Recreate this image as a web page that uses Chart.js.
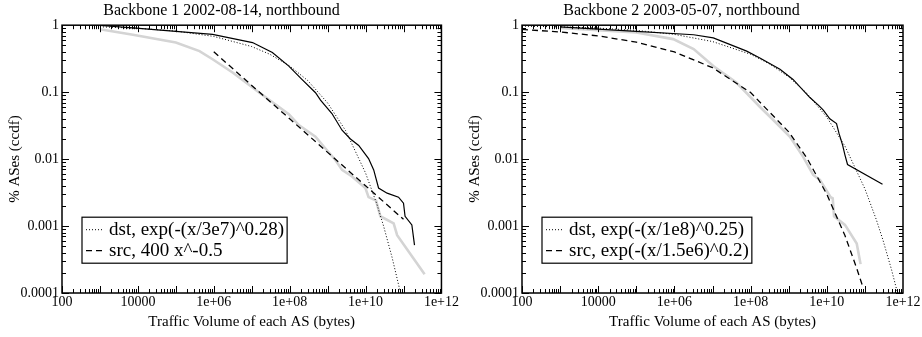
<!DOCTYPE html>
<html>
<head>
<meta charset="utf-8">
<script src="https://cdn.jsdelivr.net/npm/chart.js@4.4.1/dist/chart.umd.min.js"></script>
<style>
  html, body { margin: 0; padding: 0; background: #fff; }
  #wrap { display: flex; width: 922px; height: 337px; }
  canvas { display: block; }
</style>
</head>
<body>
<div id="wrap">
  <canvas id="c1" width="460" height="337"></canvas>
  <canvas id="c2" width="462" height="337"></canvas>
</div>
<script>
// tick labels
const xTickValues = [1e2, 1e4, 1e6, 1e8, 1e10, 1e12];
const xTickLabels = ['100', '10000', '1e+06', '1e+08', '1e+10', '1e+12'];
const yTickValues = [1e-4, 1e-3, 1e-2, 1e-1, 1];
const yTickLabels = ['0.0001', '0.001', '0.01', '0.1', '1'];

// Backbone 1 2002-08-14 : measured dst / src volumes (ccdf)
const b1DstX = [1e3, 7.4e3, 1e5, 9.3e5, 1.05e7, 3.5e7, 9.5e7, 2.1e8, 4.8e8, 6.5e8, 1.3e9, 2.4e9, 4e9, 6.6e9, 1.2e10, 1.64e10, 2.2e10, 3.7e10, 7.4e10, 1.0e11, 1.1e11, 1.66e11, 1.95e11];
const b1DstY = [0.99, 0.91, 0.81, 0.73, 0.55, 0.39, 0.245, 0.155, 0.098, 0.076, 0.048, 0.027, 0.020, 0.016, 0.0102, 0.0069, 0.0037, 0.0031, 0.0027, 0.0022, 0.0014, 0.00104, 0.00052];
const b1SrcX = [1e3, 7.4e3, 1e5, 4.2e5, 9.3e5, 3.2e6, 1.6e7, 9.5e7, 1.77e8, 4.8e8, 8e8, 1.6e9, 2.4e9, 4.4e9, 9.9e9, 1.2e10, 1.9e10, 2.45e10, 5.5e10, 6.8e10, 3.6e11];
const b1SrcY = [0.87, 0.72, 0.55, 0.41, 0.31, 0.195, 0.098, 0.047, 0.032, 0.0216, 0.0153, 0.0097, 0.0069, 0.0055, 0.0037, 0.0027, 0.0024, 0.0014, 0.0011, 0.00073, 0.00019];
// fits
const b1DstFitX = [1e3, 1e4, 1e5, 1e6, 1e7, 3e7, 1e8, 3e8, 1e9, 3e9, 1e10, 2e10, 3e10, 5e10, 8e10];
const b1DstFitY = [0.946, 0.90, 0.817, 0.68, 0.48, 0.368, 0.246, 0.149, 0.069, 0.0265, 0.0062, 0.0021, 0.00099, 0.00034, 0.000111];
const b1SrcFitX = [1e6, 1e7, 1e8, 1e9, 1e10, 1e11];
const b1SrcFitY = [0.4, 0.126, 0.04, 0.0126, 0.004, 0.00126];

// Backbone 2 2003-05-07
const b2DstX = [1e3, 1e5, 3.2e6, 1.05e7, 7.9e7, 1.8e8, 5.9e8, 1.3e9, 3.6e9, 6e9, 8.1e9, 1.2e10, 1.8e10, 2.1e10, 2.6e10, 3e10, 3.5e10, 2.9e11];
const b2DstY = [0.945, 0.81, 0.72, 0.645, 0.41, 0.32, 0.22, 0.155, 0.083, 0.064, 0.054, 0.040, 0.034, 0.024, 0.0162, 0.0115, 0.0083, 0.0042];
const b2SrcX = [1e3, 1e5, 9.3e5, 3.2e6, 1.05e7, 4.3e7, 1.77e8, 4e8, 1.08e9, 2.4e9, 4.4e9, 6.6e9, 1.26e10, 1.43e10, 1.55e10, 3e10, 6.1e10, 7.7e10];
const b2SrcY = [0.91, 0.78, 0.62, 0.44, 0.245, 0.138, 0.060, 0.038, 0.0216, 0.0108, 0.0058, 0.0049, 0.0027, 0.0026, 0.0014, 0.00104, 0.00055, 0.00027];
const b2DstFitX = [1e2, 1e3, 1e4, 1e5, 1e6, 1e7, 1e8, 3e8, 1e9, 3e9, 1e10, 3e10, 1e11, 2e11, 3e11, 5e11, 7e11];
const b2DstFitY = [0.969, 0.945, 0.905, 0.837, 0.729, 0.57, 0.368, 0.268, 0.169, 0.096, 0.0423, 0.0156, 0.0036, 0.00124, 0.00061, 0.000223, 0.000106];
const b2SrcFitX = [1e2, 1e3, 1e4, 1e5, 1e6, 1e7, 1e8, 1e9, 3e9, 1e10, 3e10, 6e10, 9e10];
const b2SrcFitY = [0.864, 0.793, 0.692, 0.559, 0.398, 0.232, 0.0987, 0.0255, 0.0104, 0.00298, 0.00072, 0.00024, 0.00012];

const FONT = "'Liberation Serif', 'Times New Roman', serif";

function pts(xs, ys) {
  return xs.map((x, i) => ({ x: x, y: ys[i] }));
}

// box + inward ticks on all four sides
const frameTicks = {
  id: 'frameTicks',
  afterDraw(chart) {
    const { ctx, chartArea: a } = chart;
    const x = chart.scales.x, y = chart.scales.y;
    ctx.save();
    ctx.strokeStyle = '#000';
    ctx.lineWidth = 1;
    ctx.beginPath();
    for (let e = 2; e < 12; e++) {
      for (let m = 1; m < 10; m++) {
        const px = Math.round(x.getPixelForValue(m * Math.pow(10, e))) + 0.5;
        const len = m === 1 ? 7 : 4;
        ctx.moveTo(px, a.bottom); ctx.lineTo(px, a.bottom - len);
        ctx.moveTo(px, a.top); ctx.lineTo(px, a.top + len);
      }
    }
    for (let e = -4; e < 0; e++) {
      for (let m = 1; m < 10; m++) {
        const py = Math.round(y.getPixelForValue(m * Math.pow(10, e))) + 0.5;
        const len = m === 1 ? 7 : 4;
        ctx.moveTo(a.left, py); ctx.lineTo(a.left + len, py);
        ctx.moveTo(a.right, py); ctx.lineTo(a.right - len, py);
      }
    }
    ctx.stroke();
    ctx.lineWidth = 1.5;
    ctx.strokeRect(a.left, a.top, a.right - a.left, a.bottom - a.top);
    ctx.restore();
  }
};

// legend box inside the plot, only the fit curves
const boxLegend = {
  id: 'boxLegend',
  afterDraw(chart) {
    const { ctx, chartArea: a } = chart;
    const items = chart.data.datasets.filter(d => d.inLegend);
    ctx.save();
    ctx.font = '19px ' + FONT;
    let w = 0;
    items.forEach(d => { w = Math.max(w, ctx.measureText(d.label).width); });
    const bx = a.left + 20, by = a.top + 192, bw = 27 + w + 3, bh = 46;
    ctx.fillStyle = '#fff';
    ctx.fillRect(bx, by, bw, bh);
    ctx.strokeStyle = '#000';
    ctx.lineWidth = 1.2;
    ctx.strokeRect(bx, by, bw, bh);
    items.forEach((d, i) => {
      const ry = by + 12 + i * 21;
      ctx.beginPath();
      ctx.setLineDash(d.borderDash);
      ctx.lineWidth = d.borderWidth;
      ctx.moveTo(bx + 4, ry + 0.5);
      ctx.lineTo(bx + 21, ry + 0.5);
      ctx.stroke();
      ctx.setLineDash([]);
      ctx.fillStyle = '#000';
      ctx.textBaseline = 'middle';
      ctx.fillText(d.label, bx + 27, ry + 1);
    });
    ctx.restore();
  }
};

function makeChart(id, title, dstFitLabel, dstFit, srcFitLabel, srcFit, dst, src, padRight) {
  return new Chart(document.getElementById(id), {
    type: 'line',
    data: {
      datasets: [
        { label: dstFitLabel, data: dstFit, inLegend: true, borderColor: '#000', borderWidth: 1, borderDash: [1, 2] },
        { label: srcFitLabel, data: srcFit, inLegend: true, borderColor: '#000', borderWidth: 1.3, borderDash: [6, 4] },
        { label: 'dst', data: dst, borderColor: '#000', borderWidth: 1.2 },
        { label: 'src', data: src, borderColor: '#d4d4d4', borderWidth: 2.6 }
      ]
    },
    options: {
      responsive: false,
      animation: false,
      devicePixelRatio: 1,
      elements: { point: { radius: 0 }, line: { tension: 0, fill: false } },
      layout: { padding: { left: 0, right: padRight, top: 0, bottom: 0 } },
      plugins: {
        legend: { display: false },
        tooltip: { enabled: false },
        title: {
          display: true, text: title, color: '#000',
          font: { family: FONT, size: 16, weight: 'normal' },
          padding: { top: 1, bottom: 5 }
        }
      },
      scales: {
        x: {
          type: 'logarithmic', min: 1e2, max: 1e12,
          grid: { display: false, drawTicks: false }, border: { display: false },
          afterBuildTicks: s => { s.ticks = xTickValues.map(v => ({ value: v })); },
          afterFit: s => { s.height = 44; },
          ticks: {
            autoSkip: false, maxRotation: 0, padding: 1, color: '#000',
            font: { family: FONT, size: 14 },
            callback: v => xTickLabels[xTickValues.indexOf(v)]
          },
          title: {
            display: true, text: 'Traffic Volume of each AS (bytes)', color: '#000',
            font: { family: FONT, size: 15 }, padding: { top: 0, bottom: 6 }
          }
        },
        y: {
          type: 'logarithmic', min: 1e-4, max: 1,
          grid: { display: false, drawTicks: false }, border: { display: false },
          afterBuildTicks: s => { s.ticks = yTickValues.map(v => ({ value: v })); },
          afterFit: s => { s.width = 62; },
          ticks: {
            autoSkip: false, padding: 3, color: '#000',
            font: { family: FONT, size: 14 },
            callback: v => yTickLabels[yTickValues.indexOf(v)]
          },
          title: {
            display: true, text: '% ASes (ccdf)', color: '#000',
            font: { family: FONT, size: 15 }, padding: { top: 6, bottom: 0 }
          }
        }
      }
    },
    plugins: [frameTicks, boxLegend]
  });
}

makeChart('c1', 'Backbone 1 2002-08-14, northbound',
  'dst, exp(-(x/3e7)^0.28)', pts(b1DstFitX, b1DstFitY),
  'src, 400 x^-0.5', pts(b1SrcFitX, b1SrcFitY),
  pts(b1DstX, b1DstY), pts(b1SrcX, b1SrcY), 17);

makeChart('c2', 'Backbone 2 2003-05-07, northbound',
  'dst, exp(-(x/1e8)^0.25)', pts(b2DstFitX, b2DstFitY),
  'src, exp(-(x/1.5e6)^0.2)', pts(b2SrcFitX, b2SrcFitY),
  pts(b2DstX, b2DstY), pts(b2SrcX, b2SrcY), 19);
</script>
</body>
</html>
